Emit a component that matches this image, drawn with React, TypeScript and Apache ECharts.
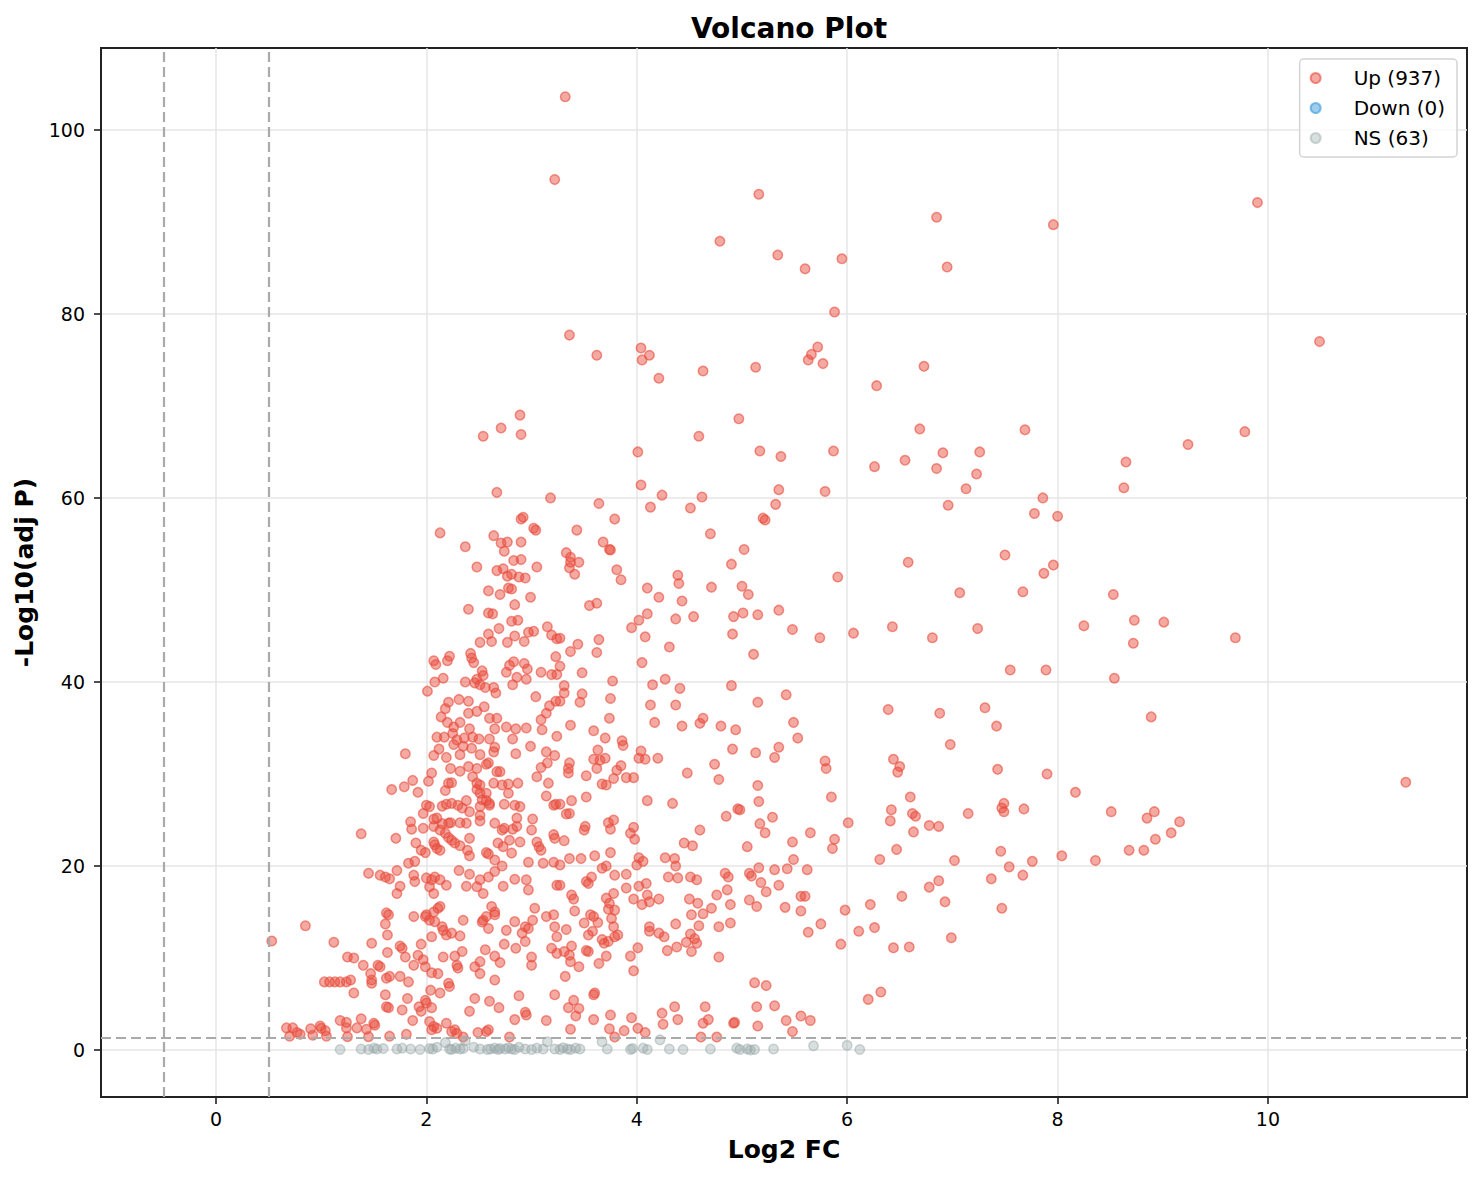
import { useEffect, useRef } from 'react';
import * as echarts from 'echarts';

// log2 fold change / -log10 adjusted p
const upSparse: number[][] = [
  [3.32, 103.6], [3.22, 94.6], [5.16, 93.0], [4.79, 87.9], [3.36, 77.7], [3.62, 75.5], [4.04, 76.3], [4.12, 75.5],
  [4.05, 75.0], [4.21, 73.0], [4.63, 73.8], [5.13, 74.2], [2.89, 69.0], [2.71, 67.6], [2.54, 66.7], [2.90, 66.9],
  [4.59, 66.7], [4.97, 68.6], [5.17, 65.1], [4.01, 65.0], [2.67, 60.6], [3.18, 60.0], [3.64, 59.4], [4.04, 61.4],
  [4.24, 60.3], [4.62, 60.1], [4.13, 59.0], [4.51, 58.9],
  [6.85, 90.5], [7.96, 89.7], [5.34, 86.4], [5.60, 84.9], [5.95, 86.0], [6.95, 85.1], [5.88, 80.2], [5.72, 76.4],
  [5.66, 75.6], [5.63, 75.0], [5.77, 74.6], [6.73, 74.3], [6.28, 72.2], [6.69, 67.5], [7.69, 67.4], [5.37, 64.5],
  [5.87, 65.1], [6.26, 63.4], [6.55, 64.1], [6.91, 64.9], [7.26, 65.0], [6.85, 63.2], [7.23, 62.6], [7.13, 61.0],
  [7.86, 60.0], [8.65, 63.9], [8.63, 61.1], [5.35, 60.9], [5.79, 60.7], [5.32, 59.3], [6.96, 59.2], [7.78, 58.3],
  [8.0, 58.0], [9.24, 65.8], [9.78, 67.2], [9.90, 92.1], [10.49, 77.0], [11.31, 29.1],
  [7.96, 52.7], [7.87, 51.8], [7.67, 49.8], [8.53, 49.5], [8.25, 46.1], [8.73, 46.7], [9.01, 46.5], [8.72, 44.2],
  [9.69, 44.8], [7.89, 41.3], [8.54, 40.4], [8.89, 36.2], [7.90, 30.0], [8.17, 28.0], [7.68, 26.2], [8.51, 25.9],
  [8.92, 25.9], [8.85, 25.2], [9.16, 24.8], [9.08, 23.6], [8.93, 22.9], [8.68, 21.7], [8.82, 21.7], [8.04, 21.1],
  [8.36, 20.6], [7.76, 20.5], [7.67, 19.0],
];

const upRight: number[][] = [
  [5.20, 57.8], [5.22, 57.6], [5.02, 54.4], [6.58, 53.0], [7.50, 53.8], [5.91, 51.4], [5.0, 50.4], [5.06, 49.5],
  [7.07, 49.7], [5.01, 47.5], [5.15, 47.3], [5.35, 47.8], [5.48, 45.7], [5.74, 44.8], [6.06, 45.3], [6.43, 46.0],
  [6.81, 44.8], [7.24, 45.8], [7.55, 41.3], [5.11, 43.0], [5.15, 37.8], [5.42, 38.6], [6.39, 37.0], [6.88, 36.6],
  [7.31, 37.2], [7.42, 35.2], [5.49, 35.6], [5.53, 33.9], [5.13, 32.3], [5.35, 32.9], [5.31, 31.8], [6.98, 33.2],
  [5.79, 31.4], [5.80, 30.6], [6.44, 31.6], [6.50, 30.8], [6.48, 30.2], [7.43, 30.5], [5.15, 28.75], [5.16, 27.0],
  [5.85, 27.5], [6.60, 27.5], [4.98, 26.1], [5.29, 25.3], [5.17, 24.6], [5.22, 23.6], [5.65, 23.6], [6.01, 24.7],
  [6.42, 26.1], [6.41, 24.9], [6.62, 25.7], [6.65, 25.4], [6.63, 23.7], [6.78, 24.4], [6.87, 24.3], [7.15, 25.7],
  [7.49, 26.8], [7.47, 26.3], [7.49, 25.9], [5.05, 22.1], [5.48, 22.6], [5.88, 22.9], [5.86, 21.9], [5.49, 20.7],
  [6.31, 20.7], [6.47, 21.8], [7.02, 20.6], [7.46, 21.6], [7.54, 19.9], [5.07, 19.2], [5.09, 18.9], [5.16, 19.8],
  [5.31, 19.6], [5.43, 19.7], [5.62, 19.6], [5.18, 18.2], [5.23, 17.2], [5.35, 17.9], [5.07, 16.3], [5.14, 15.6],
  [5.41, 15.5], [5.56, 16.7], [5.60, 16.7], [5.56, 15.1], [5.98, 15.2], [6.22, 15.8], [6.52, 16.7], [6.78, 17.7],
  [6.87, 18.4], [6.93, 16.1], [7.37, 18.6], [7.47, 15.4], [5.75, 13.7], [5.63, 12.8], [6.11, 12.9], [6.26, 13.3],
  [5.94, 11.5], [6.44, 11.1], [6.59, 11.2], [6.99, 12.2], [5.12, 7.3], [5.23, 7.0], [5.14, 4.7], [5.31, 4.8],
  [5.15, 2.6], [5.42, 3.2], [5.56, 3.7], [5.65, 3.2], [5.48, 2.0], [6.20, 5.5], [6.32, 6.3],
];

const upMidHigh: number[][] = [
  [3.79, 57.7], [3.43, 56.5], [4.70, 56.1], [3.68, 55.2], [3.74, 54.4], [3.75, 54.35], [3.33, 54.05], [3.37, 53.55],
  [3.37, 53.0], [3.45, 53.0], [3.36, 52.4], [3.41, 51.7], [4.90, 52.8], [3.81, 52.2], [3.85, 51.1], [4.10, 50.2],
  [4.21, 49.2], [4.39, 51.6], [4.40, 50.7], [4.43, 48.8], [4.71, 50.3], [3.55, 48.3], [3.62, 48.55], [4.10, 47.4],
  [4.02, 46.7], [3.95, 45.9], [4.37, 46.85], [4.54, 47.1], [4.92, 47.1], [4.91, 45.2], [4.08, 44.9], [4.31, 43.8],
  [3.27, 44.75], [3.44, 44.1], [3.37, 43.3], [3.64, 44.6], [3.62, 43.2], [3.27, 41.7], [4.05, 42.1], [3.48, 41.0],
  [3.77, 40.1], [3.31, 39.6], [3.31, 38.8], [3.27, 37.9], [3.48, 38.7], [3.46, 37.8], [3.75, 38.2], [4.15, 39.7],
  [4.27, 40.3], [4.41, 39.3], [4.90, 39.6], [4.13, 37.5], [4.37, 37.5], [3.74, 36.05], [4.17, 35.6], [3.37, 35.3],
  [4.43, 35.2], [4.60, 35.5], [4.63, 36.05], [4.80, 35.2], [4.94, 34.8], [3.59, 34.7], [3.70, 33.9], [3.86, 33.6],
  [3.87, 33.1], [4.91, 32.7], [3.63, 32.6], [3.59, 31.6], [3.65, 31.5], [3.70, 31.7], [3.62, 30.6], [4.04, 32.5],
  [4.02, 31.7], [4.08, 31.6], [4.20, 31.7], [3.36, 31.2], [3.35, 30.6], [3.35, 30.1], [3.85, 30.9], [3.81, 30.4],
  [3.78, 29.5], [3.52, 29.8], [3.67, 28.9], [3.71, 28.8], [3.90, 29.6], [3.97, 29.6], [4.48, 30.1], [4.74, 31.05],
  [4.78, 29.4],
  [2.92, 57.9], [2.90, 57.7], [3.02, 56.7], [3.04, 56.5], [2.13, 56.2], [2.64, 55.9], [2.71, 55.1], [2.77, 55.2],
  [2.90, 55.2], [2.37, 54.7], [2.74, 54.2], [2.83, 53.2], [2.90, 53.3], [2.48, 52.5], [3.05, 52.5], [2.67, 52.1],
  [2.73, 52.3], [2.77, 51.5], [2.81, 51.7], [2.88, 51.4], [2.94, 51.3], [2.59, 49.9], [2.70, 49.5], [2.78, 50.2],
  [2.81, 50.1], [2.99, 49.2], [2.84, 48.4], [2.40, 47.9], [2.59, 47.5], [2.63, 47.4], [2.69, 45.8], [2.81, 46.6],
  [2.87, 46.7], [2.59, 45.2], [2.51, 44.3], [2.62, 44.4], [2.84, 45.0], [2.77, 44.3], [2.93, 44.4], [2.97, 45.4],
  [3.02, 45.5], [3.15, 46.0], [3.19, 45.1], [3.24, 44.7], [2.07, 42.3], [2.09, 41.9], [2.20, 42.3], [2.22, 42.8],
  [2.42, 43.1], [2.43, 42.6], [2.45, 42.1], [2.83, 42.2], [2.79, 41.8], [2.76, 41.05], [2.93, 42.0], [2.96, 41.4],
  [2.53, 41.2], [2.54, 40.7], [2.86, 40.5], [2.95, 40.3], [3.09, 41.05], [3.19, 40.8], [3.23, 42.75], [3.24, 40.8],
  [2.08, 40.0], [2.16, 40.4], [2.01, 39.0], [2.37, 40.0], [2.46, 39.9], [2.48, 40.3], [2.51, 39.7], [2.56, 39.4],
  [2.64, 39.4], [2.66, 38.8], [2.82, 39.7], [3.04, 38.4], [2.21, 37.8], [2.18, 37.1], [2.14, 36.2], [2.31, 38.1],
  [2.40, 37.9], [2.55, 37.3], [2.48, 36.8], [2.40, 36.6], [2.60, 36.05], [2.67, 36.05], [3.17, 37.4], [3.23, 37.9],
  [3.14, 36.6], [3.09, 35.9], [3.10, 34.8], [2.20, 35.6], [2.26, 35.1], [2.32, 35.6], [2.41, 34.9], [2.65, 34.9],
  [2.76, 35.1], [2.85, 34.9], [2.95, 35.0], [2.10, 34.0], [2.17, 34.0], [2.25, 34.4], [2.29, 33.7], [2.36, 33.9],
  [2.44, 34.0], [2.50, 33.8], [2.60, 33.8], [2.82, 33.8], [3.24, 34.1], [2.12, 32.7], [2.26, 33.2], [2.35, 33.0],
  [2.43, 32.8], [2.65, 32.9], [2.99, 33.0], [1.80, 32.2], [2.07, 32.0], [2.19, 31.8], [2.32, 32.1], [2.51, 32.1],
  [2.59, 31.2], [2.64, 32.4], [2.85, 32.2], [3.14, 32.4], [3.22, 32.0], [2.23, 30.6], [2.32, 30.3], [2.40, 30.8],
  [2.48, 30.6], [2.57, 31.05], [2.67, 30.25], [2.70, 30.25], [3.09, 30.7], [3.15, 31.2], [2.05, 30.1], [2.02, 29.2],
  [1.87, 29.3], [1.79, 28.6], [1.67, 28.3], [2.21, 29.0], [2.24, 29.05], [2.44, 29.7], [2.48, 29.0], [2.51, 28.8],
  [2.64, 29.0], [2.72, 28.8], [2.78, 28.9], [2.87, 29.0], [3.05, 29.7], [3.16, 29.0],
];

const upMidLow: number[][] = [
  [1.92, 28.0], [2.18, 28.2], [2.48, 28.3], [2.51, 27.9], [2.57, 27.9], [2.60, 26.8], [2.78, 27.9], [3.14, 27.6],
  [3.21, 26.6], [3.23, 26.7], [2.0, 26.6], [2.03, 26.45], [1.97, 25.7], [2.15, 26.5], [2.19, 26.7], [2.24, 26.8],
  [2.30, 26.6], [2.34, 26.3], [2.38, 27.1], [2.41, 25.9], [2.51, 26.45], [2.53, 27.2], [2.57, 27.1], [2.60, 26.6],
  [2.74, 26.7], [2.84, 26.6], [2.89, 26.45], [1.85, 24.8], [1.86, 24.0], [2.07, 25.1], [2.10, 25.2], [2.15, 24.6],
  [2.21, 24.65], [2.23, 24.7], [2.32, 24.7], [2.38, 24.65], [2.51, 25.5], [2.51, 24.9], [2.65, 24.65], [2.86, 25.2],
  [2.86, 24.3], [3.01, 25.1], [3.00, 23.9], [1.97, 24.1], [2.07, 24.3], [2.13, 23.9], [2.18, 23.55], [2.21, 23.1],
  [2.24, 22.8], [2.27, 22.5], [1.71, 23.0], [1.90, 22.5], [2.07, 22.6], [2.08, 22.3], [2.10, 21.9], [2.13, 21.7],
  [1.95, 21.7], [1.99, 21.45], [2.32, 22.2], [2.41, 23.0], [2.39, 21.7], [2.41, 21.1], [2.57, 21.45], [2.59, 21.3],
  [2.65, 20.65], [2.68, 22.5], [2.72, 23.9], [2.73, 22.1], [2.74, 24.1], [2.79, 22.8], [2.81, 21.4], [2.82, 24.0],
  [2.89, 22.6], [3.05, 22.6], [3.07, 22.1], [3.09, 21.7], [3.11, 20.3], [2.97, 20.4], [3.21, 23.4], [3.22, 23.0],
  [1.83, 20.3], [1.89, 20.5], [1.61, 18.8], [1.65, 18.6], [1.72, 19.5], [1.75, 17.8], [1.72, 17.0], [1.88, 19.0],
  [1.89, 18.3], [2.0, 18.7], [2.05, 18.5], [2.03, 17.75], [2.07, 17.0], [2.08, 18.8], [2.13, 18.5], [2.19, 17.9],
  [2.31, 19.5], [2.38, 17.8], [2.41, 19.1], [2.48, 17.75], [2.51, 18.5], [2.54, 17.0], [2.59, 18.8], [2.65, 19.4],
  [2.73, 17.8], [2.72, 20.0], [2.84, 18.55], [2.95, 18.5], [2.97, 17.4], [3.24, 17.9], [3.21, 20.4],
  [1.62, 14.9], [1.64, 14.7], [1.61, 13.7], [1.63, 12.5], [1.88, 14.5], [2.0, 14.7], [2.03, 14.1], [2.07, 15.0],
  [2.11, 15.4], [2.08, 13.95], [2.13, 15.6], [2.15, 13.4], [2.16, 13.0], [2.19, 12.5], [2.24, 12.7], [2.32, 12.4],
  [2.35, 14.1], [2.05, 12.3], [1.99, 14.5], [2.53, 13.9], [2.54, 14.1], [2.57, 14.5], [2.59, 13.2], [2.62, 15.6],
  [2.65, 15.0], [2.65, 14.7], [2.76, 13.0], [2.84, 13.95], [2.91, 12.7], [2.94, 13.4], [2.97, 13.2], [3.01, 14.1],
  [3.03, 15.4], [3.14, 14.5], [3.21, 14.7], [3.22, 13.4], [3.24, 12.3],
  [1.63, 10.6], [1.75, 11.3], [1.77, 11.05], [1.80, 10.1], [1.88, 9.2], [1.92, 10.3], [1.95, 11.5], [1.97, 9.8],
  [1.99, 9.05], [2.05, 8.4], [2.11, 8.3], [2.16, 10.1], [2.27, 10.2], [2.29, 9.2], [2.30, 8.9], [2.34, 10.7],
  [2.46, 9.05], [2.51, 9.6], [2.56, 10.9], [2.65, 10.2], [2.70, 9.5], [2.51, 8.3], [2.74, 11.5], [2.85, 11.05],
  [2.94, 11.8], [3.0, 10.1], [3.0, 9.2], [3.19, 11.05], [3.24, 10.5], [1.56, 9.05], [1.62, 7.8], [1.65, 8.0],
  [1.75, 8.0], [1.83, 7.4], [1.61, 6.0], [1.62, 4.7], [1.64, 4.6], [1.82, 5.6], [1.77, 4.35], [1.93, 4.7],
  [1.95, 4.2], [1.99, 5.4], [2.0, 5.1], [2.05, 4.6], [2.04, 6.5], [2.13, 6.2], [2.21, 7.25], [2.22, 6.9],
  [2.46, 5.6], [2.60, 5.3], [2.65, 7.6], [2.69, 4.6], [2.41, 4.2], [2.88, 5.9], [2.94, 4.1], [2.95, 3.8],
  [2.84, 3.3], [3.14, 3.2], [3.22, 6.0], [1.87, 3.2], [1.81, 1.7], [2.03, 3.1], [2.07, 2.55], [2.05, 2.2],
  [2.10, 2.35], [2.19, 2.9], [2.24, 2.0], [2.27, 2.2], [2.29, 1.8], [2.35, 1.4], [1.65, 1.5], [2.49, 1.9],
  [2.57, 2.0], [2.59, 2.2], [2.79, 1.4],
  [3.38, 27.1], [3.52, 27.5], [3.27, 26.7], [3.33, 25.65], [3.36, 25.7], [4.10, 27.1], [4.34, 26.8], [4.85, 25.4],
  [4.96, 26.2], [3.73, 24.7], [3.78, 25.0], [3.75, 24.0], [3.51, 24.3], [3.50, 23.9], [3.94, 23.55], [3.97, 24.2],
  [3.98, 22.9], [4.60, 23.9], [3.31, 22.75], [4.45, 22.5], [4.53, 22.2], [3.36, 20.8], [3.47, 20.8], [3.60, 21.1],
  [3.75, 21.45], [4.02, 20.9], [4.0, 20.1], [4.06, 20.5], [4.27, 20.9], [4.36, 20.8], [4.37, 20.0], [3.27, 20.1],
  [3.67, 19.75], [3.71, 20.0], [3.79, 19.0], [3.90, 19.1], [3.57, 18.8], [3.52, 18.3], [3.54, 18.1], [3.27, 17.9],
  [3.90, 17.6], [4.02, 17.8], [4.09, 18.1], [4.30, 18.8], [4.39, 18.7], [4.51, 18.8], [4.57, 18.5], [4.84, 19.2],
  [4.87, 18.8], [4.86, 17.4], [4.76, 16.85], [3.38, 16.85], [3.40, 16.4], [3.41, 15.1], [3.71, 16.5], [3.74, 15.95],
  [3.73, 15.3], [3.79, 15.2], [3.78, 17.0], [3.97, 16.4], [4.05, 15.8], [4.10, 16.85], [4.12, 16.1], [4.21, 16.4],
  [4.50, 16.4], [4.58, 15.95], [4.89, 15.8], [4.52, 14.7], [4.63, 14.8], [4.71, 15.4], [3.50, 13.8], [3.56, 14.7],
  [3.59, 14.5], [3.63, 13.85], [3.76, 14.3], [3.33, 13.1], [3.54, 12.5], [3.58, 12.9], [3.78, 13.4], [3.82, 12.5],
  [4.12, 13.4], [4.12, 12.9], [4.21, 12.7], [4.26, 12.3], [4.37, 13.7], [4.59, 13.5], [4.78, 13.4], [4.89, 13.8],
  [4.51, 12.6], [4.55, 12.1], [4.57, 11.6], [4.47, 11.7], [4.52, 10.7], [3.67, 12.0], [3.69, 11.6], [3.73, 11.8],
  [3.79, 12.3], [3.38, 11.3], [3.31, 10.7], [3.36, 10.3], [3.37, 9.6], [3.45, 9.05], [3.52, 10.8], [3.54, 10.7],
  [3.71, 10.2], [3.64, 9.4], [4.01, 11.1], [3.94, 10.2], [3.97, 8.6], [4.29, 10.8], [4.38, 11.2], [4.78, 10.1],
  [3.32, 8.0], [3.60, 6.2], [3.59, 6.0], [3.40, 5.4], [3.35, 4.6], [3.45, 4.5], [3.42, 3.7], [3.59, 3.3],
  [3.75, 3.8], [3.95, 3.5], [3.37, 2.25], [3.74, 2.3], [3.88, 2.1], [4.01, 2.35], [4.08, 1.9], [3.79, 1.4],
  [4.24, 4.0], [4.36, 4.7], [4.39, 3.3], [4.25, 2.8], [4.65, 4.7], [4.68, 3.3], [4.63, 2.9], [4.61, 1.4],
  [4.76, 1.4], [4.92, 2.9], [4.93, 3.0],
  [1.38, 23.5], [1.45, 19.2], [1.56, 19.0], [0.85, 13.5], [0.53, 11.85], [1.12, 11.7], [1.48, 11.6], [1.25, 10.1],
  [1.31, 10.0], [1.40, 9.2], [1.54, 9.2], [1.47, 8.3], [1.48, 7.6], [1.48, 7.25], [1.03, 7.4], [1.08, 7.4],
  [1.13, 7.4], [1.18, 7.4], [1.24, 7.4], [1.28, 7.6], [1.31, 6.2], [1.18, 3.2], [1.24, 3.0], [1.38, 3.4],
  [1.50, 2.9], [0.67, 2.4], [0.73, 2.4], [0.77, 1.9], [0.80, 1.7], [0.70, 1.5], [0.90, 2.3], [0.92, 1.6],
  [0.99, 2.6], [1.0, 2.35], [1.04, 2.1], [1.05, 1.5], [1.24, 2.4], [1.25, 1.45], [1.34, 2.4], [1.43, 2.25],
  [1.45, 1.45], [1.51, 2.7],
];

const downPoints: number[][] = [];

const nsPoints: number[][] = [
  [1.18, 0.05], [1.38, 0.1], [1.45, 0.05], [1.50, 0.2], [1.53, 0.1], [1.59, 0.15], [1.72, 0.1], [1.77, 0.2],
  [1.85, 0.1], [1.94, 0.05], [2.03, 0.15], [2.06, 0.1], [2.10, 0.3], [2.18, 0.8], [2.22, 0.1], [2.24, 0.05],
  [2.28, 0.2], [2.32, 0.1], [2.35, 0.15], [2.37, 1.0], [2.45, 0.3], [2.51, 0.1], [2.58, 0.05], [2.61, 0.1],
  [2.65, 0.2], [2.68, 0.05], [2.70, 0.15], [2.75, 0.1], [2.78, 0.25], [2.81, 0.1], [2.84, 0.05], [2.88, 0.3],
  [2.94, 0.1], [3.00, 0.05], [3.05, 0.2], [3.11, 0.1], [3.15, 0.9], [3.22, 0.1], [3.27, 0.05], [3.30, 0.25],
  [3.34, 0.1], [3.37, 0.05], [3.42, 0.2], [3.46, 0.1], [3.67, 0.9], [3.72, 0.1], [3.94, 0.05], [3.96, 0.15],
  [4.06, 0.2], [4.10, 0.05], [4.22, 1.1], [4.31, 0.1], [4.44, 0.05], [4.70, 0.1], [4.95, 0.2], [4.98, 0.05],
  [5.05, 0.1], [5.08, 0.0], [5.12, 0.05], [5.30, 0.1], [5.68, 0.45], [6.00, 0.5], [6.12, 0.05],
];

const xTicks = [0, 2, 4, 6, 8, 10];
const yTicks = [0, 20, 40, 60, 80, 100];
const fcCutoffs = [-0.5, 0.5];
const pCutoff = 1.301; // -log10(0.05)

const FONT = 'DejaVu Sans';

const VolcanoPlot = () => {
  const chartDom = useRef<HTMLDivElement | null>(null);

  useEffect(() => {
    if (!chartDom.current) return;
    const myChart = echarts.init(chartDom.current, null, { renderer: 'svg' });
    const upPoints = [...upSparse, ...upRight, ...upMidHigh, ...upMidLow];

    const axisCommon = {
      type: 'value' as const,
      nameLocation: 'middle' as const,
      nameTextStyle: { fontFamily: FONT, fontSize: 25, fontWeight: 'bold', color: '#000' },
      axisLine: { show: true, onZero: false, lineStyle: { color: '#222', width: 2 } },
      splitLine: { show: true, lineStyle: { color: '#e6e6e6', width: 1.5 } },
    };

    const option = {
      animation: false,
      backgroundColor: '#fff',
      title: {
        text: 'Volcano Plot',
        left: 784,
        textAlign: 'center',
        top: 9,
        textStyle: { fontFamily: FONT, fontSize: 28, fontWeight: 'bold', color: '#000' },
      },
      grid: {
        left: 101,
        right: 15,
        top: 48,
        bottom: 83,
        show: true,
        borderColor: '#222',
        borderWidth: 2,
        backgroundColor: 'transparent',
      },
      legend: {
        data: ['Up (937)', 'Down (0)', 'NS (63)'],
        orient: 'vertical',
        right: 25,
        top: 59,
        itemWidth: 38,
        itemHeight: 10,
        itemGap: 10,
        padding: [9, 12, 9, 10],
        borderColor: '#d4d4d4',
        borderWidth: 1.5,
        borderRadius: 4,
        backgroundColor: 'rgba(255,255,255,0.8)',
        textStyle: { fontFamily: FONT, fontSize: 20, color: '#000', padding: [0, 0, 0, 14] },
      },
      xAxis: {
        ...axisCommon,
        name: 'Log2 FC',
        nameGap: 40,
        min: -1.093,
        max: 11.892,
        axisTick: { show: true, inside: false, length: 7, customValues: xTicks, lineStyle: { color: '#222', width: 1.6 } },
        axisLabel: { customValues: xTicks, margin: 12, fontFamily: FONT, fontSize: 19, color: '#000' },
      },
      yAxis: {
        ...axisCommon,
        name: '-Log10(adj P)',
        nameGap: 64,
        min: -5.11,
        max: 108.9,
        axisTick: { show: true, inside: false, length: 7, customValues: yTicks, lineStyle: { color: '#222', width: 1.6 } },
        axisLabel: { customValues: yTicks, margin: 16, fontFamily: FONT, fontSize: 19, color: '#000' },
      },
      series: [
        {
          name: 'Up (937)',
          type: 'scatter',
          data: upPoints,
          symbolSize: 9.5,
          itemStyle: { color: 'rgba(231,76,60,0.6)', borderColor: 'rgba(231,76,60,0.75)', borderWidth: 1.5 },
          z: 2,
        },
        {
          name: 'Down (0)',
          type: 'scatter',
          data: downPoints,
          symbolSize: 9.5,
          itemStyle: { color: 'rgba(52,152,219,0.6)', borderColor: 'rgba(52,152,219,0.75)', borderWidth: 1.5 },
          z: 2,
        },
        {
          name: 'NS (63)',
          type: 'scatter',
          data: nsPoints,
          symbolSize: 9.5,
          itemStyle: { color: 'rgba(149,165,166,0.45)', borderColor: 'rgba(149,165,166,0.55)', borderWidth: 1.5 },
          z: 2,
        },
        {
          name: 'thresholds',
          type: 'scatter',
          data: [],
          z: 3,
          markLine: {
            silent: true,
            animation: false,
            symbol: ['none', 'none'],
            label: { show: false },
            lineStyle: { color: '#aaaaaa', width: 2.2, type: [10, 5] },
            data: [...fcCutoffs.map((v) => ({ xAxis: v })), { yAxis: pCutoff }],
          },
        },
      ],
    };

    myChart.setOption(option);

    return () => {
      myChart.dispose();
    };
  }, []);

  return (
    <div style={{ position: 'fixed', left: 0, top: 0, width: 1482, height: 1180, background: '#fff' }}>
      <div ref={chartDom} style={{ width: '100%', height: '100%' }} />
    </div>
  );
};

export default VolcanoPlot;
